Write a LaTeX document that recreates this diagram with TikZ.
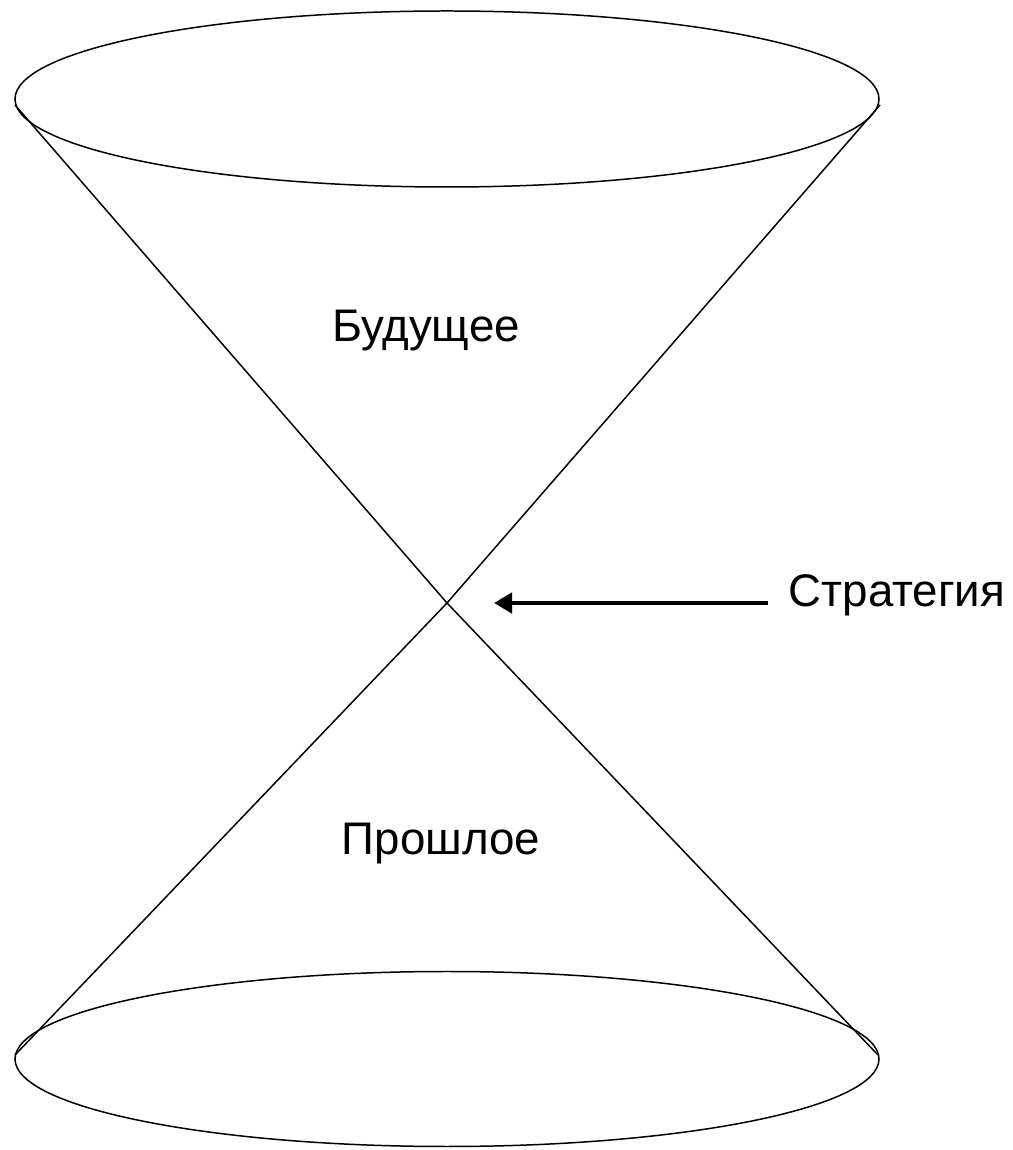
\documentclass[tikz,border=0pt]{standalone}
\usepackage{fontspec}
\setmainfont{Liberation Sans}
\usetikzlibrary{arrows.meta}
\tikzset{
	cone/.style={line width=0.85pt},
	label/.style={anchor=base,inner sep=0pt,font=\fontsize{26}{30}\selectfont},
	pointer/.style={line width=2.8pt,-{Triangle[length=0.36cm,width=0.4cm]}}
}
\begin{document}
\begin{tikzpicture}
			\useasboundingbox (0,0) rectangle (20.26,23);
			\coordinate (apex) at (8.94,10.94);
			\coordinate (tl) at (0.30,20.90);
			\coordinate (tr) at (17.60,20.90);
			\coordinate (bl) at (0.30,1.90);
			\coordinate (br) at (17.56,1.90);
			\draw[cone] (8.94,21.02) ellipse (8.64 and 1.76);
			\draw[cone] (8.94,1.82) ellipse (8.64 and 1.75);
			\draw[cone] (tl) -- (apex);
			\draw[cone] (tr) -- (apex);
			\draw[cone] (apex) -- (bl);
			\draw[cone] (apex) -- (br);
			\node[label] (future) at (8.52,16.16) {Будущее};
			\node[label] (past) at (8.82,5.90) {Прошлое};
			\node[label] (strategy) at (17.94,10.86) {Стратегия};
			\coordinate (tail) at (15.36,10.94);
			\coordinate (tip) at (9.88,10.94);
			\draw[pointer] (tail) -- (tip);
		\end{tikzpicture}
\end{document}
